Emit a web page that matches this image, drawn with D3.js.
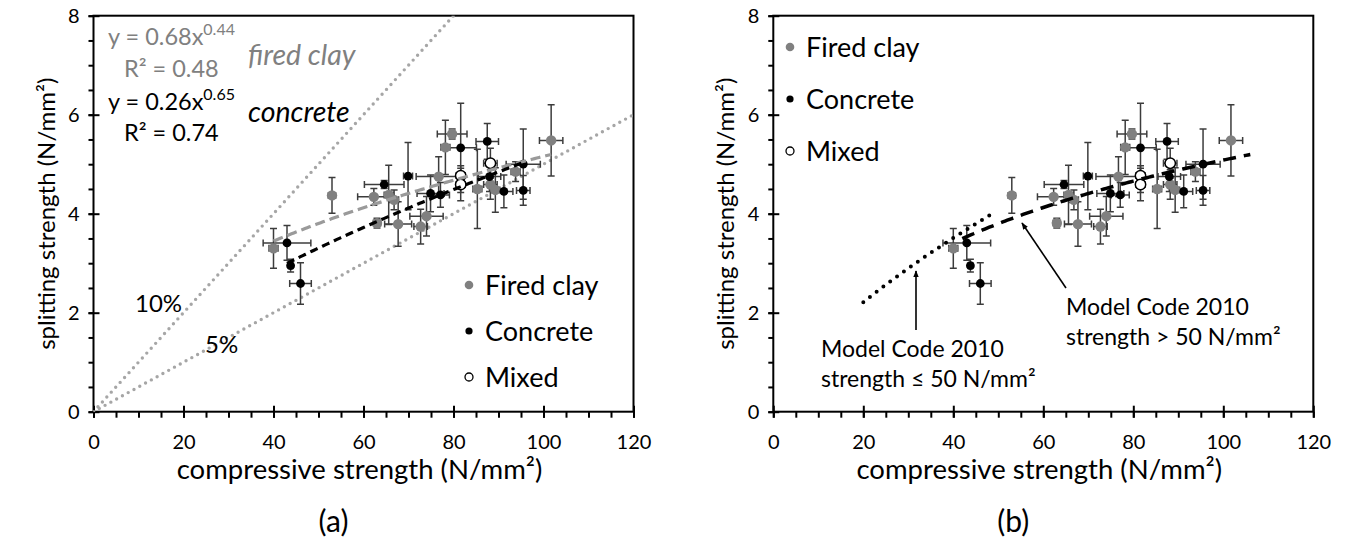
<!DOCTYPE html>
<html>
<head>
<meta charset="utf-8">
<script src="https://cdn.jsdelivr.net/npm/d3@7"></script>
<style>
  body { margin: 0; background: #fff; }
  text { font-family: Lato, "Open Sans", sans-serif; fill: #000; }
</style>
</head>
<body>
<svg id="chart" width="1347" height="547"></svg>
<script>
// ---- data: [compressive strength, splitting strength, x error, y error] ----
const firedClay = [
  [40.0, 3.30, 1.0, 0.40],
  [53.0, 4.37, 0.8, 0.36],
  [62.3, 4.34, 3.6, 0.17],
  [63.0, 3.81, 0.8, 0.10],
  [65.6, 4.38, 1.0, 0.60],
  [66.8, 4.28, 1.0, 0.20],
  [67.7, 3.79, 3.0, 0.45],
  [72.7, 3.74, 1.5, 0.35],
  [74.0, 3.95, 3.7, 0.40],
  [76.7, 4.75, 5.0, 0.40],
  [78.2, 5.34, 1.0, 0.55],
  [79.7, 5.61, 3.3, 0.10],
  [85.3, 4.50, 1.0, 0.80],
  [88.2, 4.59, 1.5, 0.30],
  [89.3, 4.48, 1.0, 0.45],
  [93.8, 4.85, 1.0, 0.20],
  [101.7, 5.48, 2.6, 0.72]
];
const concrete = [
  [43.0, 3.41, 5.3, 0.35],
  [43.8, 2.95, 0.5, 0.13],
  [46.0, 2.59, 2.4, 0.42],
  [64.6, 4.59, 4.4, 0.08],
  [69.9, 4.76, 1.0, 0.68],
  [74.9, 4.41, 3.0, 0.37],
  [77.1, 4.38, 2.0, 0.25],
  [81.6, 5.33, 3.5, 0.90],
  [87.5, 5.46, 2.5, 0.36],
  [88.0, 4.75, 2.5, 0.30],
  [91.2, 4.45, 2.0, 0.33],
  [95.5, 5.00, 3.8, 0.71],
  [95.5, 4.47, 1.5, 0.30]
];
const mixed = [
  [81.6, 4.77, 1.0, 0.20],
  [81.6, 4.59, 1.0, 0.33],
  [88.2, 5.02, 1.5, 0.30]
];

// power-law fits y = a * x^b, as stated on the chart
const clayFit = { a: 0.68, b: 0.44, from: 40.0, to: 101.7 };
const concreteFit = { a: 0.26, b: 0.65, from: 43.0, to: 95.5 };
// splitting / compressive ratio reference lines
const ratioLines = [0.10, 0.05];
// fib Model Code 2010 tensile strength relations
const mcLow = { coef: 0.3, exp: 2 / 3, from: 20, to: 49 };
const mcHigh = { coef: 2.12, k: 0.1, from: 42, to: 106 };

const xMajor = [0, 20, 40, 60, 80, 100, 120];
const xMinor = d3.range(0, 121, 5);
const yMajor = [0, 2, 4, 6, 8];
const yMinor = d3.range(0, 8.01, 0.5);

const svg = d3.select("#chart");
const GRAY = "#808080";
const LIGHT = "#a6a6a6";

function panel(left, opts) {
  const x = d3.scaleLinear().domain([0, 120]).range([left, left + 540]);
  const y = d3.scaleLinear().domain([0, 8]).range([411.7, 15.7]);
  const g = svg.append("g");
  const clipId = "clip" + Math.round(left);
  g.append("clipPath").attr("id", clipId)
    .append("rect").attr("x", x(0)).attr("y", y(8))
    .attr("width", x(120) - x(0)).attr("height", y(0) - y(8));

  // frame
  g.append("rect").attr("x", x(0)).attr("y", y(8))
    .attr("width", x(120) - x(0)).attr("height", y(0) - y(8))
    .attr("fill", "none").attr("stroke", "#000").attr("stroke-width", 2);

  // x axis: minor ticks below, major ticks crossing
  const xa = g.append("g").attr("transform", `translate(0,${y(0)})`);
  xa.call(d3.axisBottom(x).tickValues(xMinor).tickSize(6).tickFormat(""));
  const xm = g.append("g").attr("transform", `translate(0,${y(0)})`)
    .call(d3.axisBottom(x).tickValues(xMajor).tickSize(6).tickPadding(17).tickFormat(d3.format("d")));
  xm.selectAll(".tick line").attr("y1", -6);
  [xa, xm].forEach(a => {
    a.select(".domain").remove();
    a.selectAll(".tick line").attr("stroke", "#000").attr("stroke-width", 2);
  });
  xm.selectAll(".tick text").attr("font-size", 20).attr("font-family", "Lato").attr("fill", "#000");

  // y axis
  const ya = g.append("g").attr("transform", `translate(${x(0)},0)`);
  ya.call(d3.axisLeft(y).tickValues(yMinor).tickSize(5).tickFormat(""));
  const ym = g.append("g").attr("transform", `translate(${x(0)},0)`)
    .call(d3.axisLeft(y).tickValues(yMajor).tickSize(5).tickPadding(9).tickFormat(d3.format("d")));
  ym.selectAll(".tick line").attr("x1", 6);
  [ya, ym].forEach(a => {
    a.select(".domain").remove();
    a.selectAll(".tick line").attr("stroke", "#000").attr("stroke-width", 2);
  });
  ym.selectAll(".tick text").attr("font-size", 20).attr("font-family", "Lato").attr("fill", "#000");

  // axis titles
  g.append("text").attr("x", (x(0) + x(120)) / 2 - 4).attr("y", 479)
    .attr("text-anchor", "middle").attr("font-size", 27.5)
    .text("compressive strength (N/mm²)");
  g.append("text")
    .attr("transform", `translate(${x(0) - 39},${(y(0) + y(8)) / 2}) rotate(-90)`)
    .attr("text-anchor", "middle").attr("font-size", 24)
    .text("splitting strength (N/mm²)");
  g.append("text").attr("x", (x(0) + x(120)) / 2 - 30).attr("y", 532)
    .attr("text-anchor", "middle").attr("font-size", 30)
    .text(opts.tag);

  const plot = g.append("g").attr("clip-path", `url(#${clipId})`);
  opts.under && opts.under(plot, x, y);

  // error bars
  const all = [...firedClay, ...concrete, ...mixed];
  const eb = plot.append("g").attr("stroke", "#3c3c3c").attr("stroke-width", 1.5).attr("fill", "none");
  const cap = 3.5;
  all.forEach(([cx, cy, ex, ey]) => {
    const px = x(cx), py = y(cy);
    eb.append("line").attr("x1", x(cx - ex)).attr("x2", x(cx + ex)).attr("y1", py).attr("y2", py);
    eb.append("line").attr("x1", x(cx - ex)).attr("x2", x(cx - ex)).attr("y1", py - cap).attr("y2", py + cap);
    eb.append("line").attr("x1", x(cx + ex)).attr("x2", x(cx + ex)).attr("y1", py - cap).attr("y2", py + cap);
    eb.append("line").attr("x1", px).attr("x2", px).attr("y1", y(cy - ey)).attr("y2", y(cy + ey));
    eb.append("line").attr("x1", px - cap).attr("x2", px + cap).attr("y1", y(cy - ey)).attr("y2", y(cy - ey));
    eb.append("line").attr("x1", px - cap).attr("x2", px + cap).attr("y1", y(cy + ey)).attr("y2", y(cy + ey));
  });

  // markers
  plot.append("g").selectAll("circle").data(firedClay).join("circle")
    .attr("cx", d => x(d[0])).attr("cy", d => y(d[1])).attr("r", 5.2).attr("fill", GRAY);
  plot.append("g").selectAll("circle").data(concrete).join("circle")
    .attr("cx", d => x(d[0])).attr("cy", d => y(d[1])).attr("r", 4.4).attr("fill", "#000");
  plot.append("g").selectAll("circle").data(mixed).join("circle")
    .attr("cx", d => x(d[0])).attr("cy", d => y(d[1])).attr("r", 5.2)
    .attr("fill", "#fff").attr("stroke", "#000").attr("stroke-width", 1.5);

  opts.over && opts.over(plot, x, y);

  // legend
  const L = opts.legend;
  const items = [
    { name: "Fired clay", fill: GRAY, stroke: "none", r: 4.3 },
    { name: "Concrete", fill: "#000", stroke: "none", r: 3.6 },
    { name: "Mixed", fill: "#fff", stroke: "#000", r: 4 }
  ];
  items.forEach((it, i) => {
    const cy = L.y + i * L.step;
    g.append("circle").attr("cx", L.x).attr("cy", cy).attr("r", it.r)
      .attr("fill", it.fill).attr("stroke", it.stroke).attr("stroke-width", 1.3);
    g.append("text").attr("x", L.x + 16).attr("y", cy + 10).attr("font-size", 27).text(it.name);
  });
  opts.annotate && opts.annotate(g, x, y);
}

const line = (x, y) => d3.line().x(d => x(d[0])).y(d => y(d[1]));
const powerFit = f => d3.range(f.from, f.to + 1e-9, 0.5).concat([f.to]).map(v => [v, f.a * Math.pow(v, f.b)]);

// (a) ratio lines and power-law fits
panel(93.5, {
  tag: "(a)",
  legend: { x: 469, y: 285, step: 46 },
  under: (p, x, y) => {
    ratioLines.forEach(r => {
      p.append("path").datum([[0, 0], [120, 120 * r]])
        .attr("d", line(x, y)).attr("fill", "none")
        .attr("stroke", LIGHT).attr("stroke-width", 3.4)
        .attr("stroke-linecap", "round").attr("stroke-dasharray", "0 6.6");
    });
  },
  over: (p, x, y) => {
    p.append("path").datum(powerFit(clayFit)).attr("d", line(x, y))
      .attr("fill", "none").attr("stroke", "#9a9a9a").attr("stroke-width", 3.2)
      .attr("stroke-dasharray", "10 5");
    p.append("path").datum(powerFit(concreteFit)).attr("d", line(x, y))
      .attr("fill", "none").attr("stroke", "#000").attr("stroke-width", 3.2)
      .attr("stroke-dasharray", "8 5");
  },
  annotate: (g, x, y) => {
    const eq = (tx, ty, color, base, sup) => {
      const t = g.append("text").attr("x", tx).attr("y", ty).attr("font-size", 23.5).style("fill", color);
      t.append("tspan").text(base);
      t.append("tspan").attr("dy", -10).attr("font-size", 16).text(sup);
    };
    eq(108, 45, GRAY, `y = ${clayFit.a.toFixed(2)}x`, clayFit.b.toFixed(2));
    g.append("text").attr("x", 124).attr("y", 77).attr("font-size", 23.5).style("fill", GRAY).text("R² = 0.48");
    eq(108, 110, "#000", `y = ${concreteFit.a.toFixed(2)}x`, concreteFit.b.toFixed(2));
    g.append("text").attr("x", 124).attr("y", 141).attr("font-size", 23.5).text("R² = 0.74");
    g.append("text").attr("x", 248).attr("y", 65).attr("font-size", 28.5).attr("font-style", "italic")
      .style("fill", GRAY).text("fired clay");
    g.append("text").attr("x", 248).attr("y", 122).attr("font-size", 28.5).attr("font-style", "italic")
      .text("concrete");
    g.append("text").attr("x", 135).attr("y", 312).attr("font-size", 24).text("10%");
    g.append("text").attr("x", 205).attr("y", 353).attr("font-size", 24).text("5%");
  }
});

// (b) Model Code 2010 relations
panel(773.3, {
  tag: "(b)",
  legend: { x: 790, y: 47, step: 52 },
  over: (p, x, y) => {
    const low = d3.range(mcLow.from, mcLow.to + 1e-9, 0.5).map(v => [v, mcLow.coef * Math.pow(v, mcLow.exp)]);
    const high = d3.range(mcHigh.from, mcHigh.to + 1e-9, 0.5).map(v => [v, mcHigh.coef * Math.log(1 + mcHigh.k * v)]);
    p.append("path").datum(low).attr("d", line(x, y)).attr("fill", "none")
      .attr("stroke", "#000").attr("stroke-width", 4).attr("stroke-linecap", "round")
      .attr("stroke-dasharray", "0 8.5");
    p.append("path").datum(high).attr("d", line(x, y)).attr("fill", "none")
      .attr("stroke", "#000").attr("stroke-width", 3.5).attr("stroke-dasharray", "13 8");
  },
  annotate: (g, x, y) => {
    const defs = svg.append("defs");
    defs.append("marker").attr("id", "arrowhead").attr("viewBox", "0 0 10 10")
      .attr("refX", 9).attr("refY", 5).attr("markerWidth", 7).attr("markerHeight", 7)
      .attr("markerUnits", "userSpaceOnUse").attr("orient", "auto")
      .append("path").attr("d", "M0,1 L10,5 L0,9 Z").attr("fill", "#000");
    g.append("line").attr("x1", 916).attr("y1", 330).attr("x2", 916).attr("y2", 271)
      .attr("stroke", "#000").attr("stroke-width", 1.6).attr("marker-end", "url(#arrowhead)");
    g.append("line").attr("x1", 1066).attr("y1", 288).attr("x2", 1022).attr("y2", 223)
      .attr("stroke", "#000").attr("stroke-width", 1.6).attr("marker-end", "url(#arrowhead)");
    g.append("text").attr("x", 821).attr("y", 357).attr("font-size", 23).text("Model Code 2010");
    g.append("text").attr("x", 821).attr("y", 387).attr("font-size", 23).text("strength ≤ 50 N/mm²");
    g.append("text").attr("x", 1066).attr("y", 315).attr("font-size", 23).text("Model Code 2010");
    g.append("text").attr("x", 1066).attr("y", 345).attr("font-size", 23).text("strength > 50 N/mm²");
  }
});
</script>
</body>
</html>
